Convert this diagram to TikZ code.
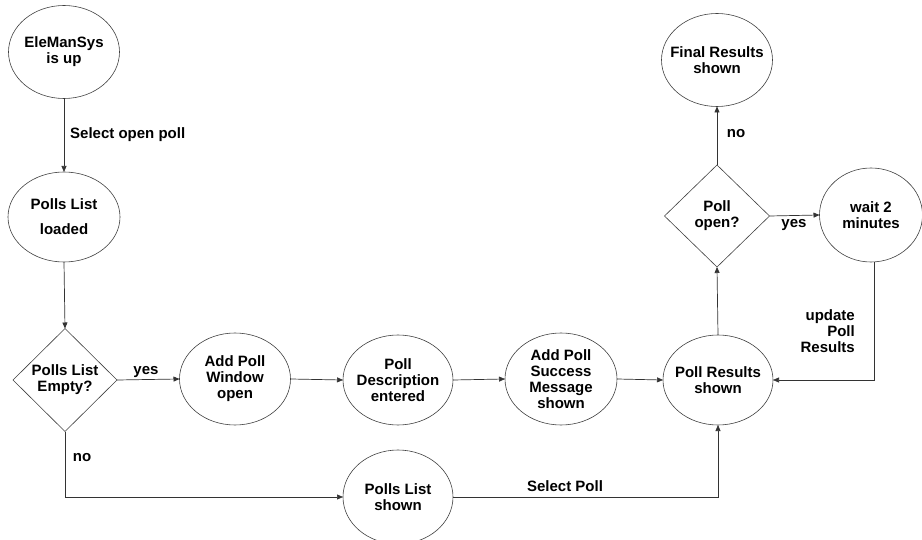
\documentclass[tikz,border=0pt]{standalone}
\usepackage{fontspec}
\setmainfont{Liberation Sans}
\usetikzlibrary{shapes.geometric,arrows.meta,calc}
\begin{document}
\begin{tikzpicture}[x=1pt,y=-1pt,
  every node/.style={font=\fontsize{15}{16}\selectfont\bfseries, text=black},
  state/.style={ellipse, draw=black!75, line width=0.6pt, inner sep=-8pt, outer sep=0pt, align=center},
  decision/.style={diamond, draw=black!75, line width=0.6pt, inner sep=0pt, outer sep=0pt, align=center},
  conn/.style={draw=black!80, line width=0.7pt, -{Triangle[length=6pt,width=5pt]}},
  lbl/.style={inner sep=0pt}
]
\useasboundingbox (0,0) rectangle (922,540);

\node[state, minimum width=111pt, minimum height=93pt] (ele) at (64,52) {EleManSys\\is up};
\node[state, minimum width=112pt, minimum height=90pt] (loaded) at (64,217) {Polls List\\[9pt]loaded};
\node[decision, minimum width=104pt, minimum height=103pt] (empty) at (65,380) {Polls List\\Empty?};
\node[state, minimum width=111pt, minimum height=92pt] (addwin) at (235,379) {Add Poll\\Window\\open};
\node[state, minimum width=110pt, minimum height=90pt] (desc) at (398,380) {Poll\\Description\\entered};
\node[state, minimum width=112pt, minimum height=92pt] (success) at (561,379) {Add Poll\\Success\\Message\\shown};
\node[state, minimum width=110pt, minimum height=90pt] (results) at (718,380) {Poll Results\\shown};
\node[state, minimum width=110pt, minimum height=94pt] (shown) at (398,497) {Polls List\\shown};
\node[decision, minimum width=105pt, minimum height=102pt] (open) at (717,216) {Poll\\open?};
\node[state, minimum width=111pt, minimum height=93pt] (final) at (717,60) {Final Results\\shown};
\node[state, minimum width=103pt, minimum height=94pt] (wait) at (871,215) {wait 2\\minutes};

\coordinate (nocorner) at (65,497);
\coordinate (selcorner) at (718,497);

\draw[conn] (ele.south) -- (loaded.north);
\draw[conn] (loaded.south) -- (empty.north);
\draw[conn] (empty.east) -- (addwin.west);
\draw[conn] (addwin.east) -- (desc.west);
\draw[conn] (desc.east) -- (success.west);
\draw[conn] (success.east) -- (results.west);
\draw[conn] (empty.south) -- (nocorner) -- (shown.west);
\draw[conn] (shown.east) -- (selcorner) -- (results.south);
\draw[conn] (results.north) -- (open.south);
\draw[conn] (open.north) -- (final.south);
\draw[conn] (open.east) -- (wait.west);
\draw[conn] ($(wait.south)+(3,0)$) |- (results.east);

\node[lbl, anchor=west] (l1) at (70,135) {Select open poll};
\node[lbl] (l2) at (146,372) {yes};
\node[lbl] (l3) at (82,458) {no};
\node[lbl] (l4) at (565,486) {Select Poll};
\node[lbl] (l5) at (736,134) {no};
\node[lbl] (l6) at (794,225) {yes};
\node[lbl, anchor=east, align=right] (l7) at (855,331) {update\\Poll\\Results};
\end{tikzpicture}
\end{document}
